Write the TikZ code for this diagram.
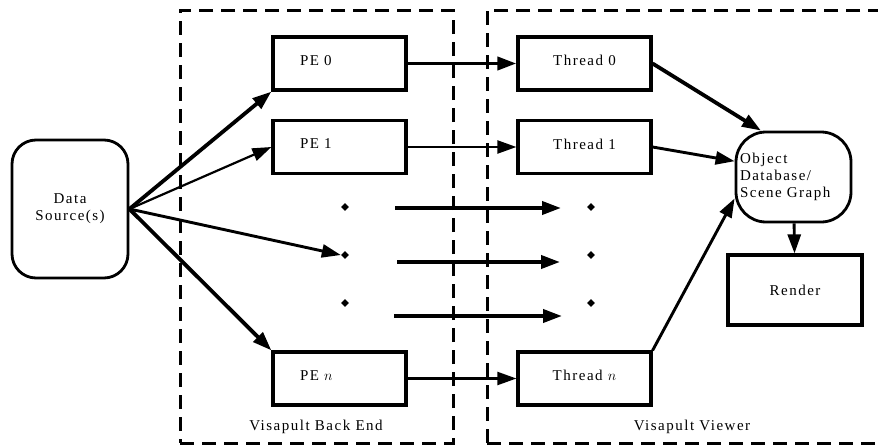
\documentclass[tikz,border=0pt]{standalone}
\usepackage{fontspec}
\setmainfont{Liberation Serif}[LetterSpace=10]
\usepackage{tikz}
\usetikzlibrary{shapes,arrows.meta,positioning}
\tikzset{
  bigedge/.style   = {black, line width=3.8pt, -{Triangle[length=19pt,width=13pt]}},
  midedge/.style   = {black, line width=2.9pt, -{Triangle[length=19pt,width=13pt]}},
  thinedge/.style  = {black, line width=2.2pt, -{Triangle[length=19pt,width=13pt]}},
  pebox/.style     = {rectangle, draw, line width=3.2pt, minimum height=53pt,
                      text width=79pt, inner xsep=27pt, align=left, text depth=6pt},
  threadbox/.style = {rectangle, draw, line width=3.2pt, minimum width=133pt, minimum height=53pt,
                      text depth=6pt},
  roundbox/.style  = {rectangle, draw, line width=2.8pt, rounded corners=24pt},
  frame/.style     = {rectangle, draw, line width=3pt, dash pattern=on 14pt off 8pt},
  dotmark/.style   = {diamond, fill=black, inner sep=0pt, minimum size=8pt},
}
\begin{document}
\begin{tikzpicture}[x=1pt,y=-1pt,font=\fontsize{15}{17}\selectfont]
      \useasboundingbox (0,0) rectangle (878,447);
      % the two halves
      \node[frame, minimum width=273pt, minimum height=433pt] (backend) at (316.5,226.5) {};
      \node[frame, minimum width=410pt, minimum height=433pt] (viewer) at (692,226.5) {};
      \node (backlabel) at (316,427) {Visapult Back End};
      \node (viewlabel) at (692,427) {Visapult Viewer};

      \node[roundbox, minimum width=116pt, minimum height=138pt, align=center] (src) at (70,209) {Data\\Source(s)};

      \node[pebox] (pe0) at (339.5,63.5) {PE 0};
      \node[pebox] (pe1) at (339.5,147) {PE 1};
      \node[pebox] (pen) at (339.5,378.5) {PE $n$};

      \node[threadbox] (th0) at (584.5,63.5) {Thread 0};
      \node[threadbox] (th1) at (584.5,147) {Thread 1};
      \node[threadbox] (thn) at (584.5,378.5) {Thread $n$};

      \node[roundbox, rounded corners=30pt, minimum width=115pt, minimum height=90pt,
            text width=107pt, inner xsep=4pt, align=left] (obj) at (793.5,177)
            {Object\\Database/\\Scene Graph};
      \node[threadbox, minimum width=134pt, minimum height=70pt, text depth=0pt] (render) at (795,290) {Render};

      % dots
      \node[dotmark] (dl1) at (345,207) {};
      \node[dotmark] (dl2) at (345,255) {};
      \node[dotmark] (dl3) at (345,303) {};
      \node[dotmark] (dr1) at (591,207) {};
      \node[dotmark] (dr2) at (591,255) {};
      \node[dotmark] (dr3) at (591,303) {};
      \coordinate (ma1) at (395,208);
      \coordinate (mb1) at (561,208);
      \coordinate (ma2) at (397,262);
      \coordinate (mb2) at (560,262);
      \coordinate (ma3) at (394,316);
      \coordinate (mb3) at (562,316);

      \path (src.east) edge[bigedge] (pe0.south west);
      \path (src.east) edge[thinedge] (pe1.west);
      \path (src.east) edge[midedge] (dl2.west);
      \path (src.east) edge[bigedge] (pen.north west);

      \path (pe0) edge[bigedge] (th0);
      \path (pe1) edge[thinedge] (th1);
      \path (pen) edge[thinedge] (thn);
      \path (ma1) edge[bigedge] (mb1);
      \path (ma2) edge[bigedge] (mb2);
      \path (ma3) edge[bigedge] (mb3);

      \path (th0.east) edge[bigedge] (obj.125);
      \path (th1.east) edge[midedge] (obj.165);
      \path (thn.north east) edge[midedge] (obj.200);
      \path (obj) edge[midedge] (render);
\end{tikzpicture}
\end{document}
